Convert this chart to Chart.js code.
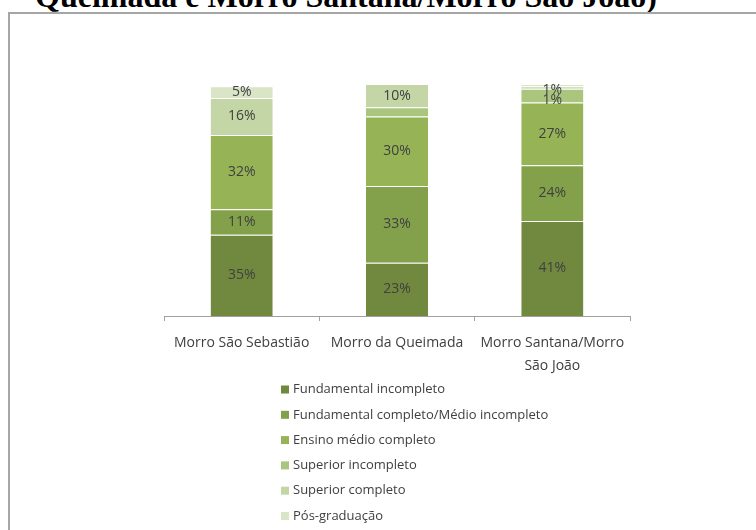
<!DOCTYPE html>
<html>
<head>
<meta charset="utf-8">
<script src="https://cdn.jsdelivr.net/npm/chart.js@4.4.0/dist/chart.umd.min.js"></script>
<style>
  html, body { margin: 0; padding: 0; background: #fff; }
  body { width: 756px; height: 530px; position: relative; overflow: hidden; }
  #title { position: absolute; left: 35px; top: -20px; font: bold 32px "Liberation Serif", "Times New Roman", serif; line-height: 32px; color: #000; white-space: nowrap; }
  #box { position: absolute; left: 8px; top: 12px; width: 760px; height: 530px; border: 2px solid #a6a6a6; box-sizing: border-box; }
  #wrap { position: absolute; left: 0; top: 0; width: 756px; height: 530px; }
</style>
</head>
<body>
<div id="title">Queimada e Morro Santana/Morro São João)</div>
<div id="box"></div>
<div id="wrap"><canvas id="c" width="756" height="530"></canvas></div>
<script>
const categories = ['Morro São Sebastião', 'Morro da Queimada', ['Morro Santana/Morro', 'São João']];
const seriesNames = ['Fundamental incompleto', 'Fundamental completo/Médio incompleto', 'Ensino médio completo', 'Superior incompleto', 'Superior completo', 'Pós-graduação'];
const fundamentalIncompleto = [35, 23, 41];
const fundamentalCompleto = [11, 33, 24];
const ensinoMedioCompleto = [32, 30, 27];
const superiorIncompleto = [0, 4, 6];
const superiorCompleto = [16, 10, 1];
const posGraduacao = [5, 0, 1];
const seriesValues = [fundamentalIncompleto, fundamentalCompleto, ensinoMedioCompleto, superiorIncompleto, superiorCompleto, posGraduacao];
const seriesColors = ['#71893f', '#83a04a', '#96b356', '#aac67e', '#c4d6a6', '#d9e5c6'];
const seriesShowLabels = [true, true, true, false, true, true];

const FONT = '"Open Sans", Lato, "Liberation Sans", sans-serif';
const TEXT = '#404040';

const labelPlugin = {
  id: 'stackLabels',
  afterDatasetsDraw(chart) {
    const ctx = chart.ctx;
    ctx.save();
    ctx.font = '14px ' + FONT;
    ctx.fillStyle = TEXT;
    ctx.textAlign = 'center';
    ctx.textBaseline = 'middle';
    const n = chart.data.labels.length;
    for (let i = 0; i < n; i++) {
      let prevY = -Infinity;
      let barTop = null;
      for (let d = chart.data.datasets.length - 1; d >= 0; d--) {
        const meta = chart.getDatasetMeta(d);
        const el = meta.data[i];
        const v = chart.data.datasets[d].data[i];
        if (!el || !v) continue;
        if (barTop === null) barTop = el.y;
        if (!seriesShowLabels[d]) { continue; }
        let y = (el.y + el.base) / 2;
        y = Math.max(y, barTop + 6, prevY + 10.5);
        ctx.fillText(v + '%', el.x, y);
        prevY = y;
      }
    }
    ctx.restore();
  }
};

const legendPlugin = {
  id: 'colLegend',
  afterDraw(chart) {
    const ctx = chart.ctx;
    ctx.save();
    ctx.font = '13px ' + FONT;
    ctx.textAlign = 'left';
    ctx.textBaseline = 'middle';
    const x0 = 281, y0 = 389.5, step = 25.3;
    chart.data.datasets.forEach((ds, k) => {
      const y = y0 + k * step;
      ctx.fillStyle = ds.backgroundColor;
      ctx.fillRect(x0, y - 4, 8, 8);
      ctx.fillStyle = TEXT;
      ctx.fillText(ds.label, x0 + 12, y);
    });
    ctx.restore();
  }
};

new Chart(document.getElementById('c'), {
  type: 'bar',
  data: {
    labels: categories,
    datasets: seriesNames.map((name, k) => ({
      label: name,
      data: seriesValues[k],
      backgroundColor: seriesColors[k],
      borderColor: 'rgba(255,255,255,0.2)',
      borderWidth: { top: 1 },
      borderSkipped: false,
      categoryPercentage: 1,
      barPercentage: 0.4
    }))
  },
  options: {
    responsive: false,
    animation: false,
    devicePixelRatio: 1,
    layout: { padding: { left: 164, right: 126, top: 84, bottom: 0 } },
    plugins: { legend: { display: false }, tooltip: { enabled: false }, title: { display: false } },
    scales: {
      x: {
        stacked: true,
        grid: { display: true, drawOnChartArea: false, drawTicks: true, tickLength: 5, color: '#a0a0a0', offset: true },
        border: { display: true, color: '#a0a0a0', width: 1 },
        ticks: { color: TEXT, font: { family: FONT, size: 14, lineHeight: 1.62 }, padding: 11, maxRotation: 0, autoSkip: false },
        afterFit(scale) { scale.height = 530 - 316; }
      },
      y: {
        stacked: true,
        display: false,
        min: 0,
        max: 100
      }
    }
  },
  plugins: [labelPlugin, legendPlugin]
});
</script>
</body>
</html>
